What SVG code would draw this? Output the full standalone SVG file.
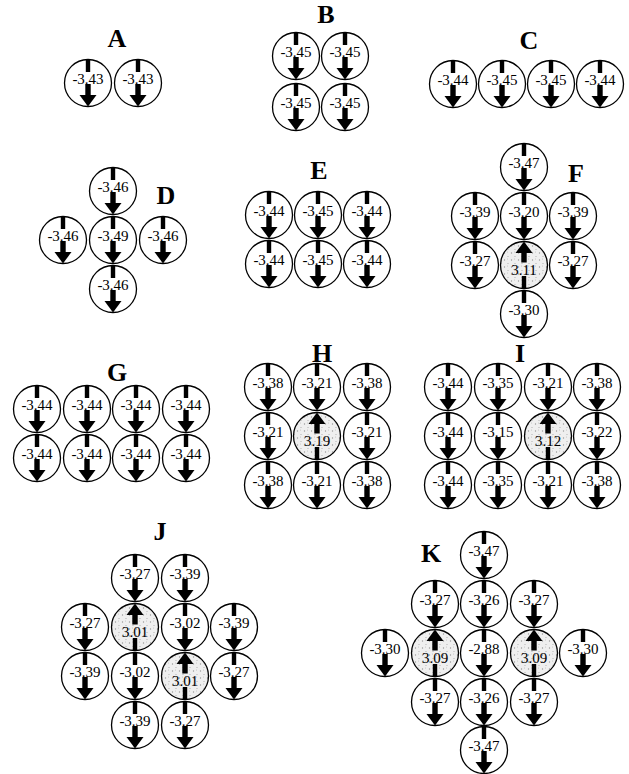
<svg xmlns="http://www.w3.org/2000/svg" xmlns:xlink="http://www.w3.org/1999/xlink" width="629" height="774" viewBox="0 0 629 774">
<style>
.c{fill:#fff;stroke:#000;stroke-width:1.3}
.s{fill:url(#stip);stroke:#000;stroke-width:1.3}
.v{font-family:"Liberation Serif","Times New Roman",serif;font-size:15px;text-anchor:middle;fill:#000}
.lab{font-family:"Liberation Serif","Times New Roman",serif;font-size:26px;font-weight:bold;text-anchor:middle;fill:#000}
</style>
<defs>
<pattern id="stip" width="7" height="7" patternUnits="userSpaceOnUse">
<rect width="7" height="7" fill="#efefef"/>
<circle cx="1.5" cy="2" r="0.7" fill="#9a9a9a"/>
<circle cx="5" cy="5.5" r="0.6" fill="#aaa"/>
<circle cx="4.5" cy="1" r="0.5" fill="#bbb"/>
</pattern>
<g id="dn">
<rect x="-2.2" y="-23" width="4.4" height="12" fill="#000"/>
<rect x="-2.7" y="1" width="5.4" height="12" fill="#000"/>
<polygon points="-8.5,12 8.5,12 0,23.5" fill="#000"/>
</g>
<g id="up">
<polygon points="0,-23.5 -8.5,-12 8.5,-12" fill="#000"/>
<rect x="-2.7" y="-12.5" width="5.4" height="10" fill="#000"/>
<rect x="-2.2" y="11" width="4.4" height="12" fill="#000"/>
</g>
<g id="cd"><circle r="23.5" class="c"/><use xlink:href="#dn"/></g>
<g id="cu"><circle r="23.5" class="s"/><use xlink:href="#up"/></g>
</defs>

<g id="labels">
<text class="lab" x="117" y="47">A</text>
<text class="lab" x="326" y="23">B</text>
<text class="lab" x="529" y="49">C</text>
<text class="lab" x="166" y="204">D</text>
<text class="lab" x="319" y="179">E</text>
<text class="lab" x="576" y="182">F</text>
<text class="lab" x="117" y="381">G</text>
<text class="lab" x="322" y="362">H</text>
<text class="lab" x="520" y="362">I</text>
<text class="lab" x="160" y="540">J</text>
<text class="lab" x="431" y="562">K</text>
</g>

<g id="panelA">
<g id="A1" transform="translate(88,83)"><use xlink:href="#cd"/><text class="v" y="1">-3.43</text></g>
<g id="A2" transform="translate(138,83)"><use xlink:href="#cd"/><text class="v" y="1">-3.43</text></g>
</g>

<g id="panelB">
<g id="B1" transform="translate(296,56)"><use xlink:href="#cd"/><text class="v" y="1">-3.45</text></g>
<g id="B2" transform="translate(345,56)"><use xlink:href="#cd"/><text class="v" y="1">-3.45</text></g>
<g id="B3" transform="translate(296,107)"><use xlink:href="#cd"/><text class="v" y="1">-3.45</text></g>
<g id="B4" transform="translate(345,107)"><use xlink:href="#cd"/><text class="v" y="1">-3.45</text></g>
</g>

<g id="panelC">
<g id="C1" transform="translate(453,84)"><use xlink:href="#cd"/><text class="v" y="1">-3.44</text></g>
<g id="C2" transform="translate(502,84)"><use xlink:href="#cd"/><text class="v" y="1">-3.45</text></g>
<g id="C3" transform="translate(551,84)"><use xlink:href="#cd"/><text class="v" y="1">-3.45</text></g>
<g id="C4" transform="translate(600,84)"><use xlink:href="#cd"/><text class="v" y="1">-3.44</text></g>
</g>

<g id="panelD">
<g id="D1" transform="translate(113,191)"><use xlink:href="#cd"/><text class="v" y="1">-3.46</text></g>
<g id="D2" transform="translate(63,240)"><use xlink:href="#cd"/><text class="v" y="1">-3.46</text></g>
<g id="D3" transform="translate(113,240)"><use xlink:href="#cd"/><text class="v" y="1">-3.49</text></g>
<g id="D4" transform="translate(163,240)"><use xlink:href="#cd"/><text class="v" y="1">-3.46</text></g>
<g id="D5" transform="translate(113,289)"><use xlink:href="#cd"/><text class="v" y="1">-3.46</text></g>
</g>

<g id="panelE">
<g id="E1" transform="translate(269,215)"><use xlink:href="#cd"/><text class="v" y="1">-3.44</text></g>
<g id="E2" transform="translate(318,215)"><use xlink:href="#cd"/><text class="v" y="1">-3.45</text></g>
<g id="E3" transform="translate(367,215)"><use xlink:href="#cd"/><text class="v" y="1">-3.44</text></g>
<g id="E4" transform="translate(269,264)"><use xlink:href="#cd"/><text class="v" y="1">-3.44</text></g>
<g id="E5" transform="translate(318,264)"><use xlink:href="#cd"/><text class="v" y="1">-3.45</text></g>
<g id="E6" transform="translate(367,264)"><use xlink:href="#cd"/><text class="v" y="1">-3.44</text></g>
</g>

<g id="panelF">
<g id="F1" transform="translate(524,167)"><use xlink:href="#cd"/><text class="v" y="1">-3.47</text></g>
<g id="F2" transform="translate(475,216)"><use xlink:href="#cd"/><text class="v" y="1">-3.39</text></g>
<g id="F3" transform="translate(524,216)"><use xlink:href="#cd"/><text class="v" y="1">-3.20</text></g>
<g id="F4" transform="translate(573,216)"><use xlink:href="#cd"/><text class="v" y="1">-3.39</text></g>
<g id="F5" transform="translate(475,265)"><use xlink:href="#cd"/><text class="v" y="1">-3.27</text></g>
<g id="F6" transform="translate(524,265)"><use xlink:href="#cu"/><text class="v" y="10">3.11</text></g>
<g id="F7" transform="translate(573,265)"><use xlink:href="#cd"/><text class="v" y="1">-3.27</text></g>
<g id="F8" transform="translate(524,314)"><use xlink:href="#cd"/><text class="v" y="1">-3.30</text></g>
</g>

<g id="panelG">
<g id="G1" transform="translate(37,409)"><use xlink:href="#cd"/><text class="v" y="1">-3.44</text></g>
<g id="G2" transform="translate(87,409)"><use xlink:href="#cd"/><text class="v" y="1">-3.44</text></g>
<g id="G3" transform="translate(136,409)"><use xlink:href="#cd"/><text class="v" y="1">-3.44</text></g>
<g id="G4" transform="translate(186,409)"><use xlink:href="#cd"/><text class="v" y="1">-3.44</text></g>
<g id="G5" transform="translate(37,458)"><use xlink:href="#cd"/><text class="v" y="1">-3.44</text></g>
<g id="G6" transform="translate(87,458)"><use xlink:href="#cd"/><text class="v" y="1">-3.44</text></g>
<g id="G7" transform="translate(136,458)"><use xlink:href="#cd"/><text class="v" y="1">-3.44</text></g>
<g id="G8" transform="translate(186,458)"><use xlink:href="#cd"/><text class="v" y="1">-3.44</text></g>
</g>

<g id="panelH">
<g id="H1" transform="translate(268,387)"><use xlink:href="#cd"/><text class="v" y="1">-3.38</text></g>
<g id="H2" transform="translate(317,387)"><use xlink:href="#cd"/><text class="v" y="1">-3.21</text></g>
<g id="H3" transform="translate(367,387)"><use xlink:href="#cd"/><text class="v" y="1">-3.38</text></g>
<g id="H4" transform="translate(268,436)"><use xlink:href="#cd"/><text class="v" y="1">-3.21</text></g>
<g id="H5" transform="translate(317,436)"><use xlink:href="#cu"/><text class="v" y="10">3.19</text></g>
<g id="H6" transform="translate(367,436)"><use xlink:href="#cd"/><text class="v" y="1">-3.21</text></g>
<g id="H7" transform="translate(268,485)"><use xlink:href="#cd"/><text class="v" y="1">-3.38</text></g>
<g id="H8" transform="translate(317,485)"><use xlink:href="#cd"/><text class="v" y="1">-3.21</text></g>
<g id="H9" transform="translate(367,485)"><use xlink:href="#cd"/><text class="v" y="1">-3.38</text></g>
</g>

<g id="panelI">
<g id="I1" transform="translate(448,387)"><use xlink:href="#cd"/><text class="v" y="1">-3.44</text></g>
<g id="I2" transform="translate(498,387)"><use xlink:href="#cd"/><text class="v" y="1">-3.35</text></g>
<g id="I3" transform="translate(548,387)"><use xlink:href="#cd"/><text class="v" y="1">-3.21</text></g>
<g id="I4" transform="translate(597,387)"><use xlink:href="#cd"/><text class="v" y="1">-3.38</text></g>
<g id="I5" transform="translate(448,436)"><use xlink:href="#cd"/><text class="v" y="1">-3.44</text></g>
<g id="I6" transform="translate(498,436)"><use xlink:href="#cd"/><text class="v" y="1">-3.15</text></g>
<g id="I7" transform="translate(548,436)"><use xlink:href="#cu"/><text class="v" y="10">3.12</text></g>
<g id="I8" transform="translate(597,436)"><use xlink:href="#cd"/><text class="v" y="1">-3.22</text></g>
<g id="I9" transform="translate(448,485)"><use xlink:href="#cd"/><text class="v" y="1">-3.44</text></g>
<g id="I10" transform="translate(498,485)"><use xlink:href="#cd"/><text class="v" y="1">-3.35</text></g>
<g id="I11" transform="translate(548,485)"><use xlink:href="#cd"/><text class="v" y="1">-3.21</text></g>
<g id="I12" transform="translate(597,485)"><use xlink:href="#cd"/><text class="v" y="1">-3.38</text></g>
</g>

<g id="panelJ">
<g id="J1" transform="translate(135,578)"><use xlink:href="#cd"/><text class="v" y="1">-3.27</text></g>
<g id="J2" transform="translate(185,578)"><use xlink:href="#cd"/><text class="v" y="1">-3.39</text></g>
<g id="J3" transform="translate(85,627)"><use xlink:href="#cd"/><text class="v" y="1">-3.27</text></g>
<g id="J4" transform="translate(135,627)"><use xlink:href="#cu"/><text class="v" y="10">3.01</text></g>
<g id="J5" transform="translate(185,627)"><use xlink:href="#cd"/><text class="v" y="1">-3.02</text></g>
<g id="J6" transform="translate(234,627)"><use xlink:href="#cd"/><text class="v" y="1">-3.39</text></g>
<g id="J7" transform="translate(85,676)"><use xlink:href="#cd"/><text class="v" y="1">-3.39</text></g>
<g id="J8" transform="translate(135,676)"><use xlink:href="#cd"/><text class="v" y="1">-3.02</text></g>
<g id="J9" transform="translate(185,676)"><use xlink:href="#cu"/><text class="v" y="10">3.01</text></g>
<g id="J10" transform="translate(234,676)"><use xlink:href="#cd"/><text class="v" y="1">-3.27</text></g>
<g id="J11" transform="translate(135,725)"><use xlink:href="#cd"/><text class="v" y="1">-3.39</text></g>
<g id="J12" transform="translate(185,725)"><use xlink:href="#cd"/><text class="v" y="1">-3.27</text></g>
</g>

<g id="panelK">
<g id="K1" transform="translate(484,555)"><use xlink:href="#cd"/><text class="v" y="1">-3.47</text></g>
<g id="K2" transform="translate(435,604)"><use xlink:href="#cd"/><text class="v" y="1">-3.27</text></g>
<g id="K3" transform="translate(484,604)"><use xlink:href="#cd"/><text class="v" y="1">-3.26</text></g>
<g id="K4" transform="translate(534,604)"><use xlink:href="#cd"/><text class="v" y="1">-3.27</text></g>
<g id="K5" transform="translate(385,653)"><use xlink:href="#cd"/><text class="v" y="1">-3.30</text></g>
<g id="K6" transform="translate(435,653)"><use xlink:href="#cu"/><text class="v" y="10">3.09</text></g>
<g id="K7" transform="translate(484,653)"><use xlink:href="#cd"/><text class="v" y="1">-2.88</text></g>
<g id="K8" transform="translate(534,653)"><use xlink:href="#cu"/><text class="v" y="10">3.09</text></g>
<g id="K9" transform="translate(583,653)"><use xlink:href="#cd"/><text class="v" y="1">-3.30</text></g>
<g id="K10" transform="translate(435,702)"><use xlink:href="#cd"/><text class="v" y="1">-3.27</text></g>
<g id="K11" transform="translate(484,702)"><use xlink:href="#cd"/><text class="v" y="1">-3.26</text></g>
<g id="K12" transform="translate(534,702)"><use xlink:href="#cd"/><text class="v" y="1">-3.27</text></g>
<g id="K13" transform="translate(484,750)"><use xlink:href="#cd"/><text class="v" y="1">-3.47</text></g>
</g>
</svg>
